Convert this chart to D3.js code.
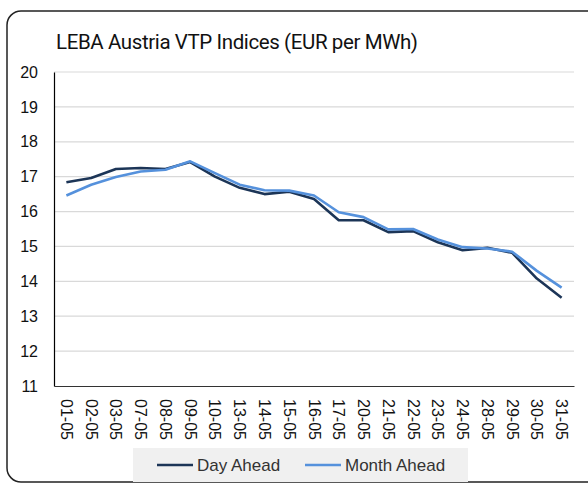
<!DOCTYPE html>
<html>
<head>
<meta charset="utf-8">
<script src="https://cdn.jsdelivr.net/npm/d3@7"></script>
<style>
  body { margin: 0; background: #fff; }
  svg { display: block; font-family: "Liberation Sans", Arial, sans-serif; }
</style>
</head>
<body>
<div class="canvas"></div>
<script>
// data
const dates = ['01-05','02-05','03-05','07-05','08-05','09-05','10-05','13-05','14-05','15-05','16-05',
               '17-05','20-05','21-05','22-05','23-05','24-05','28-05','29-05','30-05','31-05'];
const dayAhead = [16.84, 16.96, 17.22, 17.25, 17.22, 17.42, 17.0, 16.68, 16.5, 16.57, 16.36,
                  15.75, 15.75, 15.41, 15.44, 15.12, 14.89, 14.96, 14.82, 14.08, 13.53];
const monthAhead = [16.46, 16.77, 16.99, 17.15, 17.2, 17.44, 17.1, 16.77, 16.61, 16.6, 16.46,
                    15.98, 15.84, 15.49, 15.5, 15.2, 14.98, 14.94, 14.85, 14.3, 13.82];
const yTicks = [11, 12, 13, 14, 15, 16, 17, 18, 19, 20];

const W = 588, H = 485;
const margin = {top: 72, right: 14, bottom: 99, left: 54};
const graphWidth = W - margin.left - margin.right;
const graphHeight = H - margin.top - margin.bottom;

const svg = d3.select('.canvas').append('svg')
    .attr('width', W)
    .attr('height', H);

// outer frame
svg.append('rect')
    .attr('x', 7).attr('y', 11)
    .attr('width', 595).attr('height', 471)
    .attr('rx', 14)
    .attr('fill', 'none')
    .attr('stroke', '#222')
    .attr('stroke-width', 1.5);

// title
svg.append('text')
    .attr('x', 56).attr('y', 49)
    .attr('font-family', 'Roboto, sans-serif')
    .attr('font-size', 20.5)
    .attr('textLength', 362)
    .attr('lengthAdjust', 'spacing')
    .attr('fill', '#111')
    .text('LEBA Austria VTP Indices (EUR per MWh)');

const graph = svg.append('g')
    .attr('transform', `translate(${margin.left}, ${margin.top})`);

// scales
const x = d3.scaleBand()
    .domain(dates)
    .range([0, graphWidth]);
const y = d3.scaleLinear()
    .domain([11, 20])
    .range([graphHeight, 0]);

// gridlines
graph.append('g')
    .selectAll('line')
    .data(yTicks.filter(d => d > 11))
    .join('line')
    .attr('x1', 0).attr('x2', graphWidth)
    .attr('y1', d => y(d)).attr('y2', d => y(d))
    .attr('stroke', '#d9d9d9')
    .attr('stroke-width', 1.2);

// y axis
const yAxisGroup = graph.append('g')
    .call(d3.axisLeft(y).tickValues(yTicks).tickSize(0).tickPadding(16).tickFormat(d3.format('d')));
yAxisGroup.select('.domain').attr('stroke', '#000').attr('stroke-width', 1.2);
yAxisGroup.selectAll('text')
    .attr('font-size', 16)
    .attr('fill', '#111');

// x axis
const xAxisGroup = graph.append('g')
    .attr('transform', `translate(0, ${graphHeight})`)
    .call(d3.axisBottom(x).tickSize(0).tickPadding(0));
xAxisGroup.select('.domain').attr('stroke', '#333').attr('stroke-width', 1.2);
xAxisGroup.selectAll('text')
    .attr('font-size', 16)
    .attr('fill', '#111')
    .attr('text-anchor', 'start')
    .attr('dy', null)
    .attr('dominant-baseline', 'central')
    .attr('transform', 'translate(0, 13) rotate(90)');

// lines
const line = series => d3.line()
    .x((d, i) => x(dates[i]) + x.bandwidth() / 2)
    .y(d => y(d))(series);

graph.append('path')
    .attr('d', line(dayAhead))
    .attr('fill', 'none')
    .attr('stroke', '#1c3557')
    .attr('stroke-width', 2.6)
    .attr('stroke-linejoin', 'round');

graph.append('path')
    .attr('d', line(monthAhead))
    .attr('fill', 'none')
    .attr('stroke', '#5591dc')
    .attr('stroke-width', 2.6)
    .attr('stroke-linejoin', 'round');

// legend
const legend = svg.append('g');
legend.append('rect')
    .attr('x', 133).attr('y', 448)
    .attr('width', 335).attr('height', 34)
    .attr('fill', '#f0f0f0');

const legendItems = [
  {name: 'Day Ahead', color: '#1c3557', x: 157},
  {name: 'Month Ahead', color: '#5591dc', x: 305}
];
legendItems.forEach(d => {
  legend.append('line')
      .attr('x1', d.x).attr('x2', d.x + 36)
      .attr('y1', 465).attr('y2', 465)
      .attr('stroke', d.color)
      .attr('stroke-width', 2.6);
  legend.append('text')
      .attr('x', d.x + 40).attr('y', 471)
      .attr('font-size', 17)
      .attr('fill', '#333')
      .text(d.name);
});
</script>
</body>
</html>
